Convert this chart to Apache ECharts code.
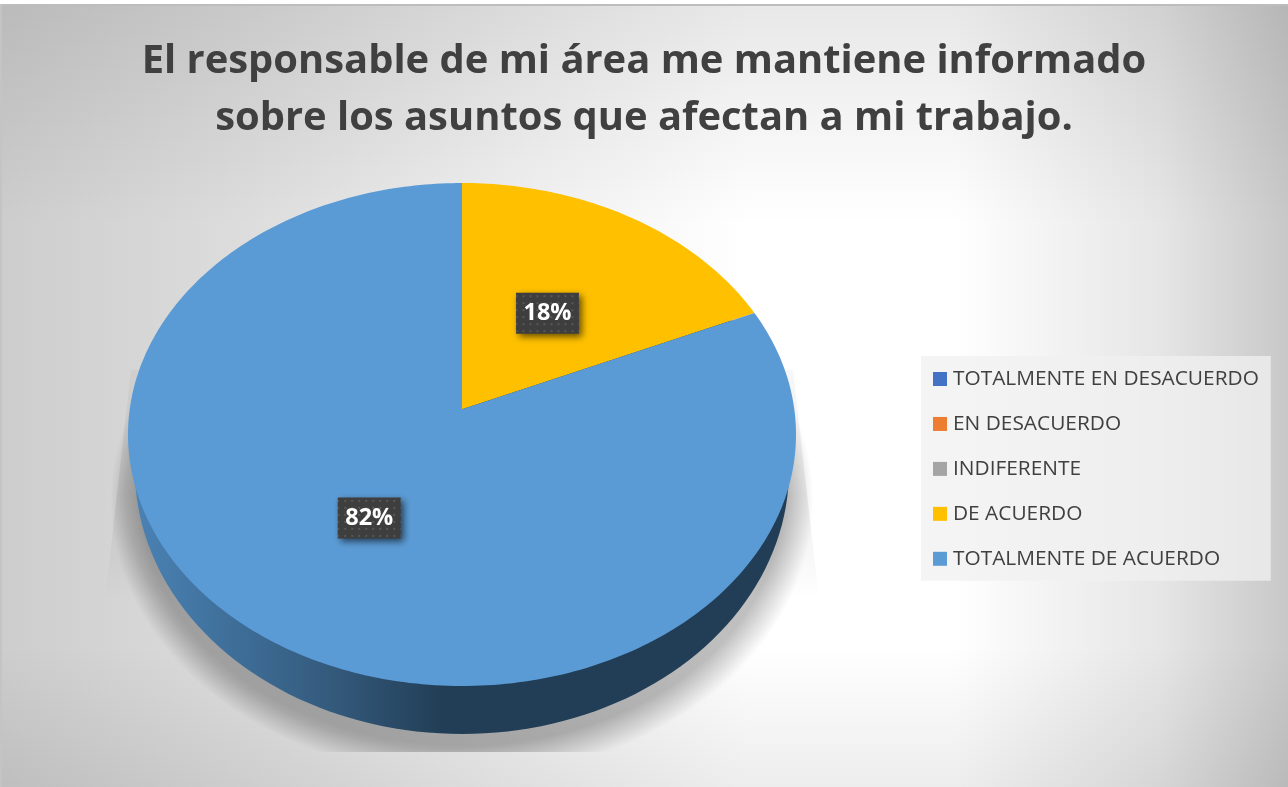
<!DOCTYPE html>
<html>
<head>
<meta charset="utf-8">
<style>html,body{margin:0;padding:0;background:#fff}#c{width:1288px;height:787px}</style>
<script src="https://cdn.jsdelivr.net/npm/echarts@6/dist/echarts.min.js"></script>
</head>
<body>
<div id="c"></div>
<script>
const categories = ['TOTALMENTE EN DESACUERDO','EN DESACUERDO','INDIFERENTE','DE ACUERDO','TOTALMENTE DE ACUERDO'];
const values = [0,0,0,18.4,81.6];
const colors = ['#4472c4','#ed7d31','#a5a5a5','#ffc000','#5b9bd5'];
const titleText = 'El responsable de mi área me mantiene informado\nsobre los asuntos que afectan a mi trabajo.';

const FONT = '"Open Sans", sans-serif';
const pie = {cx:462, cy:434.5, rx:334, ry:251.5, tilt:0.1};
const wall = {cx:462, cy:470, rx:327, ry:264};
const shade = {cx:462, cy:500, rx:321, ry:246};
const W = 1288, H = 787, X0 = 2, Y0 = 6;

// tilted disc: perspective projection of a unit circle point onto the ellipse
function project(r, ang){
  const x = r*Math.sin(ang), y = r*Math.cos(ang), k = pie.tilt, d = 1 + k*y;
  return [pie.cx + pie.rx*x*Math.sqrt(1-k*k)/d, pie.cy - pie.ry*(y+k)/d];
}
function ellipsePts(e, grow){
  const p = [];
  for(let a=0;a<360;a+=2){
    const t=a*Math.PI/180;
    p.push([e.cx+(e.rx+grow)*Math.cos(t), e.cy+(e.ry+grow)*Math.sin(t)]);
  }
  return p;
}
function bgRects(x,y,w,h){
  const shape={x,y,width:w,height:h};
  return [
    {type:'rect',shape,style:{fill:{type:'linear',global:true,x:X0,y:0,x2:W,y2:0,colorStops:[
      {offset:0,color:'#cdcdcd'},{offset:.18,color:'#dcdcdc'},{offset:.4,color:'#f0f0f0'},
      {offset:.58,color:'#ffffff'},{offset:.74,color:'#ffffff'},{offset:.9,color:'#e6e6e6'},{offset:1,color:'#c8c8c8'}]}}},
    {type:'rect',shape,style:{fill:{type:'linear',global:true,x:0,y:Y0,x2:0,y2:H,colorStops:[
      {offset:0,color:'rgba(0,0,0,0.09)'},{offset:.28,color:'rgba(0,0,0,0)'},
      {offset:.82,color:'rgba(0,0,0,0)'},{offset:1,color:'rgba(0,0,0,0.07)'}]}}}
  ];
}
function dotPattern(){
  const c=document.createElement('canvas');c.width=7;c.height=7;
  const g=c.getContext('2d');g.fillStyle='#3e3e3e';g.fillRect(0,0,7,7);
  g.fillStyle='#575757';g.fillRect(3,3,2,2);
  return {image:c,repeat:'repeat'};
}
const labelFill = dotPattern();
const total = values.reduce((a,b)=>a+b,0);

function wedgeFill(){
  return {type:'linear',global:true,x:0,y:370,x2:0,y2:600,colorStops:[
    {offset:0,color:'rgba(0,0,0,0.03)'},{offset:.55,color:'rgba(0,0,0,0.07)'},{offset:1,color:'rgba(0,0,0,0)'}]};
}
function renderBase(){
  const ch=[...bgRects(X0,Y0,W-X0,H-Y0)];
  ch.push({type:'rect',shape:{x:0,y:4,width:W,height:2},style:{fill:'#bdbdbd'}});
  ch.push({type:'rect',shape:{x:0,y:4,width:2,height:H-4},style:{fill:'#c4c4c4'}});
  // side wedges of the soft shadow
  ch.push({type:'polygon',shape:{points:[[131,370],[105,600],[300,600],[300,370]]},style:{fill:wedgeFill()}});
  ch.push({type:'polygon',shape:{points:[[793,370],[819,600],[620,600],[620,370]]},style:{fill:wedgeFill()}});
  // soft shadow under the disc
  for(let g=30;g>=0;g-=1.5){
    ch.push({type:'polygon',shape:{points:ellipsePts(shade,g)},style:{fill:'rgba(0,0,0,0.011)'}});
  }
  ch.push(...bgRects(X0,752,W-X0,H-752));
  // wall of the disc
  ch.push({type:'polygon',shape:{points:ellipsePts(wall,0)},style:{fill:{type:'linear',global:true,x:wall.cx-wall.rx,y:0,x2:wall.cx+wall.rx,y2:0,colorStops:[
    {offset:0,color:'#4a82b4'},{offset:.17,color:'#3d6c95'},{offset:.3,color:'#345a7c'},{offset:.47,color:'#223e56'},{offset:1,color:'#223e56'}]}}});
  return {type:'group',children:ch};
}
function makeSlice(i){
  return function(params,api){
    const v=api.value(0);
    if(!v) return {type:'group',children:[]};
    const before=values.slice(0,i).reduce((a,b)=>a+b,0);
    const a0=before/total*2*Math.PI, a1=(before+v)/total*2*Math.PI;
    const pts=[project(0,0)];
    const n=Math.ceil((a1-a0)/(Math.PI/180));
    for(let j=0;j<=n;j++) pts.push(project(1,a0+(a1-a0)*j/n));
    return {type:'polygon',shape:{points:pts},style:{fill:colors[i]}};
  };
}
function makeLabel(i){
  return function(params,api){
    const v=api.value(0);
    if(!v) return {type:'group',children:[]};
    const before=values.slice(0,i).reduce((a,b)=>a+b,0);
    const p=project(0.49,(before+v/2)/total*2*Math.PI);
    const w=63,h=41;
    return {type:'group',x:p[0],y:p[1]+2,children:[
      {type:'rect',shape:{x:-w/2,y:-h/2,width:w,height:h},style:{fill:labelFill,shadowBlur:7,shadowOffsetX:3,shadowOffsetY:3,shadowColor:'rgba(0,0,0,0.6)'}},
      {type:'text',style:{x:0,y:0,text:Math.round(v)+'%',fill:'#fff',font:'bold 23.5px '+FONT,align:'center',verticalAlign:'middle'}}
    ]};
  };
}
const series=[{type:'custom',name:'_base',silent:true,z:1,data:[[0]],renderItem:renderBase,coordinateSystem:'none'}];
categories.forEach((c,i)=>{
  series.push({type:'custom',name:c,coordinateSystem:'none',z:2,data:[[values[i]]],renderItem:makeSlice(i),itemStyle:{color:colors[i]}});
});
categories.forEach((c,i)=>{
  series.push({type:'custom',name:'_label'+i,coordinateSystem:'none',z:3,data:[[values[i]]],renderItem:makeLabel(i),silent:true});
});
const chart=echarts.init(document.getElementById('c'),null,{renderer:'canvas'});
chart.setOption({
  animation:false,
  tooltip:{show:false},
  title:{text:titleText,left:639,top:28,textAlign:'center',textStyle:{fontFamily:FONT,fontWeight:'bold',fontSize:39.9,lineHeight:57,color:'#404040'}},
  legend:{data:categories,orient:'vertical',left:921,top:356,icon:'rect',itemWidth:14,itemHeight:14,itemGap:20.95,
    padding:[11,12,10,12],backgroundColor:'rgba(240,240,240,0.75)',selectedMode:false,
    textStyle:{fontFamily:FONT,fontSize:20.85,lineHeight:24,color:'#404040',padding:[0,0,0,1]}},
  series
});
</script>
</body>
</html>
